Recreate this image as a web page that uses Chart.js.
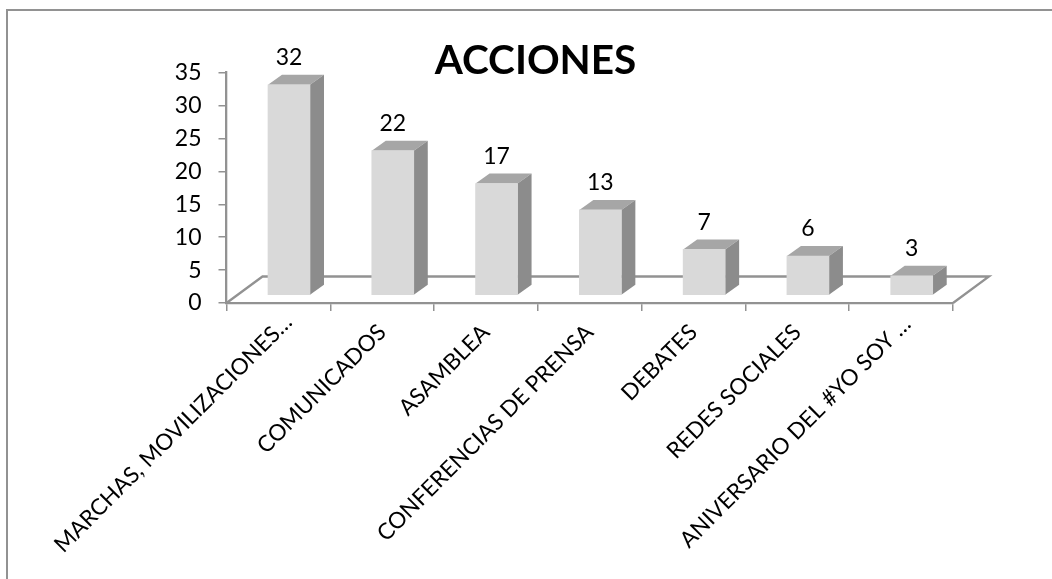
<!DOCTYPE html>
<html>
<head>
<meta charset="utf-8">
<title>ACCIONES</title>
<script src="https://cdn.jsdelivr.net/npm/chart.js@4"></script>
<style>
  html, body { margin: 0; padding: 0; background: #fff; }
  #wrap { width: 1052px; height: 579px; }
</style>
</head>
<body>
<div id="wrap"><canvas id="chart1" width="1052" height="579"></canvas></div>
<script>
const categorias = [
  'MARCHAS, MOVILIZACIONES…',
  'COMUNICADOS',
  'ASAMBLEA',
  'CONFERENCIAS DE PRENSA',
  'DEBATES',
  'REDES SOCIALES',
  'ANIVERSARIO DEL #YO SOY …'
];
const valores = [32, 22, 17, 13, 7, 6, 3];
const yMax = 35;
const yPaso = 5;

const gris = '#929292';
const frente = '#d9d9d9';
const tapa = '#a6a6a6';
const lado = '#8c8c8c';
// desplazamiento de la barra sobre el piso y profundidad de la caja
const barDx = 10.6, barDy = -7.5, cajaX = 14, cajaY = -10;
const pisoX = 36, pisoY = -26.5;

const efecto3d = {
  id: 'efecto3d',
  afterLayout(chart) {
    // las etiquetas recortadas con ... sobresalen hacia arriba
    const items = chart.scales.x.getLabelItems();
    items[0].options.translation[0] += 10;
    items[0].options.translation[1] -= 10;
    items[6].options.translation[0] += 6;
    items[6].options.translation[1] -= 8;
  },
  beforeDraw(chart) {
    // el marco solo se ve arriba y a la izquierda
    const ctx = chart.ctx;
    ctx.save();
    ctx.strokeStyle = gris;
    ctx.lineWidth = 2;
    ctx.beginPath();
    ctx.moveTo(7, chart.height);
    ctx.lineTo(7, 10);
    ctx.lineTo(chart.width, 10);
    ctx.stroke();
    ctx.restore();
  },
  beforeDatasetsDraw(chart) {
    const ctx = chart.ctx;
    const a = chart.chartArea;
    // piso
    ctx.save();
    ctx.strokeStyle = gris;
    ctx.lineWidth = 2.3;
    ctx.beginPath();
    ctx.moveTo(a.left, a.bottom);
    ctx.lineTo(a.left + pisoX, a.bottom + pisoY);
    ctx.lineTo(a.right + pisoX, a.bottom + pisoY);
    ctx.lineTo(a.right, a.bottom);
    ctx.stroke();
    // caras de las barras
    chart.getDatasetMeta(0).data.forEach(b => {
      const x0 = b.x - b.width / 2 + barDx, x1 = b.x + b.width / 2 + barDx;
      const t = b.y + barDy, f = b.base + barDy;
      ctx.fillStyle = tapa;
      ctx.beginPath();
      ctx.moveTo(x0, t);
      ctx.lineTo(x0 + cajaX, t + cajaY);
      ctx.lineTo(x1 + cajaX, t + cajaY);
      ctx.lineTo(x1, t);
      ctx.closePath();
      ctx.fill();
      ctx.fillStyle = lado;
      ctx.beginPath();
      ctx.moveTo(x1, t);
      ctx.lineTo(x1 + cajaX, t + cajaY);
      ctx.lineTo(x1 + cajaX, f + cajaY);
      ctx.lineTo(x1, f);
      ctx.closePath();
      ctx.fill();
    });
    ctx.restore();
  },
  beforeDatasetDraw(chart) {
    chart.ctx.save();
    chart.ctx.translate(barDx, barDy);
  },
  afterDatasetDraw(chart) {
    chart.ctx.restore();
  },
  afterDatasetsDraw(chart) {
    const ctx = chart.ctx;
    ctx.save();
    ctx.fillStyle = '#000';
    ctx.font = '23px Lato';
    ctx.textAlign = 'center';
    ctx.textBaseline = 'middle';
    chart.getDatasetMeta(0).data.forEach((b, i) => {
      ctx.fillText(String(valores[i]), b.x + barDx, b.y + barDy - 27);
    });
    ctx.restore();
  }
};

new Chart(document.getElementById('chart1'), {
  type: 'bar',
  data: {
    labels: categorias,
    datasets: [{
      label: 'ACCIONES',
      data: valores,
      backgroundColor: frente,
      barThickness: 42,
      clip: false
    }]
  },
  plugins: [efecto3d],
  options: {
    responsive: false,
    animation: false,
    layout: { padding: { left: 118, right: 99, top: 0, bottom: 0 } },
    plugins: {
      legend: { display: false },
      tooltip: { enabled: false },
      title: {
        display: true,
        text: 'ACCIONES',
        color: '#000',
        font: { family: 'Lato', size: 40.5, weight: 'bold' },
        padding: { top: 37, bottom: -13 }
      }
    },
    scales: {
      x: {
        afterFit(s) { s.height = 276; },
        border: { color: gris, width: 2.3 },
        grid: { drawOnChartArea: false, color: gris, lineWidth: 1.5, tickLength: 8 },
        ticks: {
          color: '#000',
          font: { family: 'Lato', size: 22.5 },
          minRotation: 45,
          maxRotation: 45,
          autoSkip: false,
          padding: 8
        }
      },
      y: {
        min: 0,
        max: yMax,
        afterFit(s) { s.width = 108.5; },
        border: { color: gris, width: 2.3 },
        grid: { drawOnChartArea: false, color: gris, lineWidth: 1.5, tickLength: 8 },
        ticks: {
          stepSize: yPaso,
          color: '#000',
          font: { family: 'Lato', size: 23 },
          padding: 17
        }
      }
    }
  }
});
</script>
</body>
</html>
